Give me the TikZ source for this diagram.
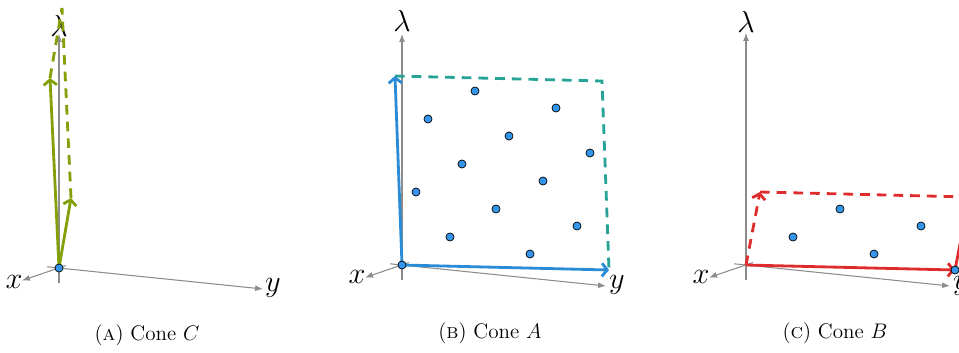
\documentclass[tikz,border=0pt]{standalone}
\usepackage{tikz}
\usetikzlibrary{arrows.meta}
\definecolor{coneGreen}{RGB}{132,160,8}
\definecolor{coneBlue}{RGB}{42,140,214}
\definecolor{coneTeal}{RGB}{38,163,150}
\definecolor{coneRed}{RGB}{222,44,44}
\definecolor{dotBlue}{RGB}{52,150,235}
\definecolor{axisGray}{RGB}{140,140,140}
\tikzset{
  axisline/.style={axisGray,line width=0.6pt,-{Latex[length=4.5pt,width=3.4pt]}},
  axlab/.style={font=\fontsize{16}{18}\selectfont,inner sep=1pt},
  vec/.style={line width=1.6pt,-{Straight Barb[length=3pt,width=7.5pt]}},
  side/.style={line width=1.6pt,dash pattern=on 5.5pt off 4pt},
  pt/.style={circle,draw=black,line width=0.4pt,fill=dotBlue,inner sep=0pt,minimum size=4.6pt},
  capt/.style={font=\fontsize{12}{14}\selectfont},
}
\begin{document}
\begin{tikzpicture}[x=0.02cm,y=-0.02cm]
  \clip (0,0) rectangle (959,352);

  % (A) cone C
  \begin{scope}[shift={(59,268)}]
    \coordinate (ao) at (0,0);
    \coordinate (axn) at (7,-2.5);  \coordinate (axp) at (-37,12.5);
    \coordinate (ayn) at (-12,-1.2); \coordinate (ayp) at (204,21);
    \coordinate (aln) at (0,15);    \coordinate (alp) at (0,-234);
    \draw[axisline] (axn) -- (axp);
    \draw[axisline] (ayn) -- (ayp);
    \draw[axisline] (aln) -- (alp);
    \node[axlab] (axl) at (-45,14) {$x$};
    \node[axlab] (ayl) at (214,20) {$y$};
    \node[axlab] (all) at (0,-242) {$\lambda$};
    \coordinate (au) at (-9,-190);
    \coordinate (av) at (12,-70);
    \coordinate (auv) at (3,-260);
    \draw[side,coneGreen] (au) -- (auv);
    \draw[side,coneGreen] (av) -- (auv);
    \draw[vec,coneGreen] (ao) -- (au);
    \draw[vec,coneGreen] (ao) -- (av);
    \node[pt] (ap0) at (ao) {};
    \node[capt] (acap) at (88,67) {(\textsc{a}) Cone $C$};
  \end{scope}

  % (B) cone A
  \begin{scope}[shift={(402,265)}]
    \coordinate (bo) at (0,0);
    \coordinate (bxn) at (7,-2.5);  \coordinate (bxp) at (-37,12.5);
    \coordinate (byn) at (-12,-1.2); \coordinate (byp) at (204,21);
    \coordinate (bln) at (0,15);    \coordinate (blp) at (0,-231);
    \draw[axisline] (bxn) -- (bxp);
    \draw[axisline] (byn) -- (byp);
    \draw[axisline] (bln) -- (blp);
    \node[axlab] (bxl) at (-45,12) {$x$};
    \node[axlab] (byl) at (215,20) {$y$};
    \node[axlab] (bll) at (0,-244) {$\lambda$};
    \coordinate (bu) at (-7,-189);
    \coordinate (bv) at (207,5);
    \coordinate (buv) at (200,-184);
    \draw[side,coneTeal] (bu) -- (buv) -- (bv);
    \draw[vec,coneBlue] (bo) -- (bu);
    \draw[vec,coneBlue] (bo) -- (bv);
    \node[pt] (bp0) at (bo) {};
    \foreach \px/\py [count=\i] in {73/-174,154/-157,26/-146,107/-129,188/-112,60/-101,
                                    141/-84,14/-73,94/-56,175/-39,48/-28,128/-11}
      \node[pt] (bp\i) at (\px,\py) {};
    \node[capt] (bcap) at (88,68) {(\textsc{b}) Cone $A$};
  \end{scope}

  % (C) cone B
  \begin{scope}[shift={(746,265)}]
    \coordinate (co) at (0,0);
    \coordinate (cxn) at (7,-2.5);  \coordinate (cxp) at (-37,12.5);
    \coordinate (cyn) at (-12,-1.2); \coordinate (cyp) at (204,21);
    \coordinate (cln) at (0,15);    \coordinate (clp) at (0,-232);
    \draw[axisline] (cxn) -- (cxp);
    \draw[axisline] (cyn) -- (cyp);
    \draw[axisline] (cln) -- (clp);
    \node[axlab] (cxl) at (-45,12) {$x$};
    \node[axlab] (cyl) at (215,21) {$y$};
    \node[axlab] (cll) at (0,-243) {$\lambda$};
    \coordinate (cu) at (14,-73);
    \coordinate (cv) at (209,5);
    \coordinate (cuv) at (223,-68);
    \draw[side,coneRed] (cu) -- (cuv);
    \draw[line width=1.6pt,coneRed] (cv) -- (cuv);
    \draw[vec,side,coneRed] (co) -- (cu);
    \draw[vec,coneRed] (co) -- (cv);
    \foreach \px/\py [count=\i] in {47/-28,94/-56,128/-11,175/-39,209/5}
      \node[pt] (cp\i) at (\px,\py) {};
    \node[capt] (ccap) at (89,68) {(\textsc{c}) Cone $B$};
  \end{scope}
\end{tikzpicture}
\end{document}
